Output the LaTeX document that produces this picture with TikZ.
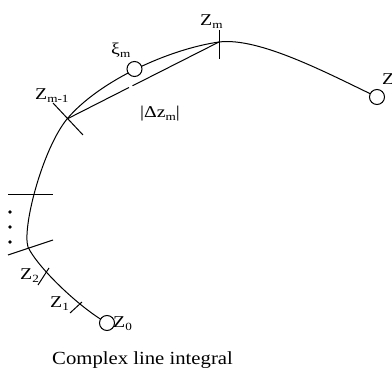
\documentclass[tikz,border=0pt]{standalone}
\usepackage{fontspec}
\setmainfont{Liberation Serif}
\newfontfamily\labfont[FakeStretch=1.2]{Liberation Serif}
\newfontfamily\capfont[FakeStretch=1.12]{Liberation Serif}
\newcommand{\lsub}[1]{\raisebox{-0.35ex}{\fontsize{11}{12}\selectfont #1}}
\begin{document}
\begin{tikzpicture}[x=1pt,y=-1pt,
  curve/.style={line width=1pt},
  tickline/.style={line width=1pt},
  ptcircle/.style={circle,draw,line width=1pt,fill=white,minimum size=15pt,inner sep=0pt},
  lab/.style={inner sep=0pt,font=\labfont\fontsize{16.5}{18}\selectfont},
  dotmark/.style={circle,fill=black,minimum size=3.6pt,inner sep=0pt}]
\useasboundingbox (0,0) rectangle (392,374);
\clip (0,0) rectangle (392,374);
% key points on the curve
\coordinate (p0) at (107,323);
\coordinate (p3) at (28,247);
\coordinate (pm1) at (67,119);
\coordinate (xi) at (134.5,69);
\coordinate (pm) at (219,42);
\coordinate (pn) at (377,97);
\draw[curve] (p0) .. controls (80,308) and (38,268) .. (p3)
  .. controls (22,228) and (42,150) .. (pm1)
  .. controls (100,80) and (170,49) .. (pm)
  .. controls (259,37) and (327,73) .. (pn);
% chord with a small gap
\coordinate (gapa) at (129,87.5);
\coordinate (gapb) at (132.5,85.8);
\draw[tickline] (pm1) -- (gapa);
\draw[tickline] (gapb) -- (pm);
% ticks
\coordinate (tma) at (219,30); \coordinate (tmb) at (219,59);
\draw[tickline] (tma) -- (tmb);
\coordinate (tm1a) at (53,103); \coordinate (tm1b) at (83,135);
\draw[tickline] (tm1a) -- (tm1b);
\coordinate (tha) at (8,195); \coordinate (thb) at (53,195);
\draw[tickline] (tha) -- (thb);
\coordinate (tsa) at (8,255); \coordinate (tsb) at (53,240);
\draw[tickline] (tsa) -- (tsb);
\coordinate (t2a) at (38,285); \coordinate (t2b) at (49,268);
\draw[tickline] (t2a) -- (t2b);
\coordinate (t1a) at (70,313); \coordinate (t1b) at (82,302);
\draw[tickline] (t1a) -- (t1b);
% circles
\node[ptcircle] (c0) at (p0) {};
\node[ptcircle] (cxi) at (xi) {};
\node[ptcircle] (cn) at (pn) {};
% dots
\node[dotmark] (d1) at (10,212) {};
\node[dotmark] (d2) at (10,227) {};
\node[dotmark] (d3) at (10,242) {};
% labels
\node[lab,anchor=base west] (lzm) at (200,25.5) {Z\lsub{m}};
\node[lab,anchor=base west] (lxi) at (111,55) {ξ\lsub{m}};
\node[lab,anchor=base west] (lzm1) at (35,100) {Z\lsub{m-1}};
\node[lab,anchor=base west] (ldz) at (140,118) {|Δz\lsub{m}|};
\node[lab,anchor=base west] (lz2) at (20,280) {Z\lsub{2}};
\node[lab,anchor=base west] (lz1) at (50,308) {Z\lsub{1}};
\node[lab,anchor=base west] (lz0) at (113,328) {Z\lsub{0}};
\node[lab,anchor=base west] (lzn) at (382,85) {Z};
\node[inner sep=0pt,anchor=base west,font=\capfont\fontsize{18.5}{20}\selectfont] (cap) at (52,365) {Complex line integral};
\end{tikzpicture}
\end{document}
